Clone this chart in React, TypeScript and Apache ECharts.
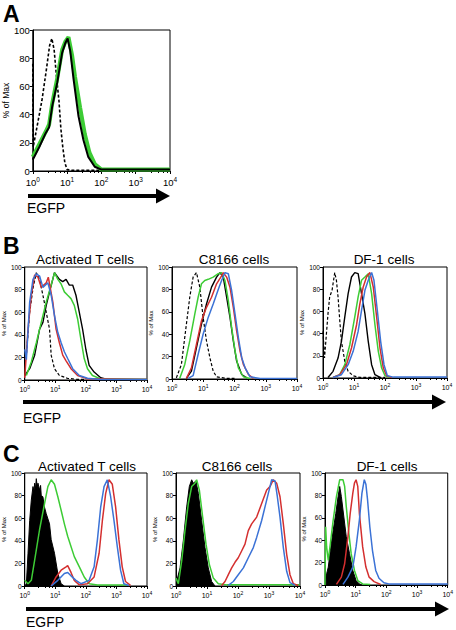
import React, { useEffect, useRef } from "react";
import * as echarts from "echarts";

// ---------- DATA: [EGFP intensity, % of Max] ----------
// Panel A
const aDashed = [[1, 76], [1.03, 17], [1.3, 30], [1.85, 50], [2.5, 72], [3.1, 89], [3.6, 94], [4.2, 86], [5.0, 65], [5.8, 50], [6.6, 30], [7.5, 17], [8.6, 6], [10, 1], [14, 0.5], [300, 0.5]];
const aBlack = [[1, 8], [1.55, 17], [2.4, 27], [3.0, 31], [3.7, 46], [5.2, 63], [7.2, 84], [9, 91], [10.4, 94], [12.4, 85], [15.5, 65], [21.5, 39], [30, 22], [41.5, 10], [64, 3], [100, 1], [10000, 1]];
const aGreen = [[1, 10], [1.55, 19], [2.4, 28], [3.0, 33], [3.7, 48], [5.2, 66], [7.2, 86], [9, 92], [11, 95], [14, 82], [17, 67], [24, 45], [33, 26], [45, 13], [64, 5], [100, 1], [10000, 1]];

// Panel B - Activated T cells
const bTDashed = [[1, 15], [1.13, 22], [1.45, 60], [1.86, 81], [2.39, 95], [3.06, 89], [3.93, 75], [5.05, 60], [6.47, 45], [7.33, 22], [9.4, 10], [13.6, 4], [25, 1.5], [54, 0.5], [100, 0.5]];
const bTBlack = [[1, 4], [1.45, 10], [2.11, 22], [3.06, 45], [3.93, 51], [5.05, 66], [6.47, 78], [9.4, 95], [13.6, 89], [17.5, 87], [22.5, 89], [28.8, 84], [37, 84], [47.4, 75], [60.8, 60], [78, 45], [100, 27], [128, 13], [186, 7], [306, 2], [502, 0.5], [10000, 0.5]];
const bTGreen = [[1.13, 4], [1.64, 16], [2.39, 33], [3.47, 51], [5.05, 69], [7.33, 84], [9.4, 95], [12.1, 89], [15.5, 85], [19.8, 78], [25.4, 75], [32.6, 72], [41.8, 66], [53.7, 54], [68.9, 36], [88.3, 19], [113, 10], [164, 4], [306, 1], [10000, 0.5]];
const bTRed = [[1, 2], [1.28, 45], [1.64, 75], [2.11, 93], [2.71, 91], [3.47, 82], [5.05, 86], [5.9, 91], [8.3, 69], [10.6, 45], [13.6, 33], [17.5, 22], [22.5, 17], [32.6, 10], [53.7, 4], [113, 1], [10000, 0.5]];
const bTBlue = [[1, 27], [1.13, 18], [1.45, 69], [1.86, 89], [2.39, 94], [3.06, 92], [3.93, 82], [5.71, 86], [7.33, 75], [9.4, 57], [12.1, 42], [15.5, 33], [19.8, 25], [25.4, 19], [37, 10], [61, 4], [113, 1.5], [300, 0.5], [10000, 0.5]];

// Panel B - C8166 cells
const bCDashed = [[1.38, 1], [2.0, 13], [2.89, 49], [3.7, 73], [4.74, 91], [6.07, 95], [7.76, 82], [9.9, 55], [12.7, 34], [16.3, 19], [20.8, 7], [26.7, 2], [56, 0.5], [100, 0.5]];
const bCGreen = [[1.76, 0.5], [2.56, 13], [3.7, 34], [5.36, 58], [6.86, 73], [8.79, 85], [11.2, 88], [14.4, 89], [20.8, 91], [30.2, 94], [38.6, 95], [49.5, 88], [63.4, 70], [81, 46], [104, 25], [133, 10], [192, 2], [315, 0.5]];
const bCBlack = [[2.89, 0.5], [4.19, 7], [6.07, 28], [8.79, 49], [12.7, 67], [18.4, 82], [26.7, 91], [34.2, 95], [43.7, 91], [56, 73], [71.7, 55], [91.7, 34], [117, 16], [170, 4], [246, 1]];
const bCRed = [[2.89, 0.5], [4.19, 10], [6.07, 31], [8.79, 52], [12.7, 64], [18.4, 73], [26.7, 85], [38.6, 92], [43.7, 95], [56, 91], [71.7, 82], [91.7, 64], [117, 43], [150, 25], [192, 13], [279, 4], [403, 0.5]];
const bCBlue = [[3.27, 0.5], [4.74, 3], [6.86, 22], [9.9, 40], [14.4, 55], [20.8, 67], [30.2, 80], [38.6, 88], [49.5, 95], [63.4, 94], [81, 79], [104, 58], [133, 37], [170, 19], [218, 10], [315, 2], [661, 0.5], [10000, 0.5]];

// Panel B - DF-1 cells
const bDDashed = [[1, 42], [1.12, 18], [1.45, 58], [1.64, 73], [1.96, 79], [2.39, 95], [2.71, 88], [3.06, 73], [3.47, 52], [3.93, 33], [5.05, 15], [6.47, 6], [9.4, 2], [15.5, 0.5], [100, 0.5]];
const bDBlack = [[1.45, 0.5], [2.11, 6], [3.06, 18], [3.93, 33], [5.05, 55], [6.47, 76], [8.3, 91], [10.6, 95], [13.6, 94], [17.5, 76], [22.5, 58], [28.8, 33], [37, 12], [47.4, 3], [68.9, 0.5]];
const bDGreen = [[2.11, 0.5], [3.47, 3], [5.05, 12], [7.33, 30], [10.6, 55], [13.6, 73], [17.5, 88], [22.5, 91], [28.8, 94], [37, 76], [47.4, 48], [60.8, 24], [78, 9], [100, 2], [145, 0.5]];
const bDRed = [[2.11, 0.5], [3.47, 3], [5.71, 12], [8.3, 27], [12.1, 48], [15.5, 67], [19.8, 82], [25.4, 91], [32.6, 95], [41.8, 82], [53.7, 55], [68.9, 27], [88.3, 9], [113, 2], [164, 0.5]];
const bDBlue = [[2.11, 0.5], [3.93, 3], [6.47, 12], [9.4, 24], [13.6, 42], [17.5, 61], [22.5, 79], [28.8, 88], [37, 95], [44, 88], [56.4, 61], [72.4, 33], [92.8, 12], [119, 2], [186, 0.8], [10000, 0.8]];

// Panel C - Activated T cells
const cTFill = [[1, 0], [1.13, 2], [1.28, 29], [1.45, 58], [1.64, 76], [1.86, 88], [2.0, 84], [2.11, 91], [2.25, 86], [2.39, 95], [2.55, 88], [2.71, 91], [3.06, 85], [3.3, 89], [3.47, 80], [3.93, 79], [4.4, 70], [5.05, 64], [6.47, 55], [7.33, 41], [9.4, 29], [12.1, 11], [15.5, 2], [19.8, 0]];
const cTGreen = [[1, 5], [1.28, 2], [1.64, 5], [2.11, 23], [3.06, 50], [4.45, 73], [5.71, 88], [7.33, 94], [9.4, 90], [12.1, 79], [15.5, 67], [19.8, 55], [25.4, 44], [32.6, 35], [41.8, 26], [53.7, 20], [68.9, 14], [88.3, 8], [128, 2], [239, 0.8], [2246, 0.8]];
const cTRed = [[7.33, 0], [10.6, 8], [15.5, 14], [22.5, 17], [25.4, 18], [32.6, 12], [41.8, 5], [60.8, 1], [113, 2], [186, 8], [271, 29], [347, 58], [445, 82], [571, 94], [733, 90], [940, 70], [1205, 41], [1546, 17], [1983, 4], [2880, 0.5]];
const cTBlue = [[7.33, 0], [12.1, 5], [19.8, 11], [25.4, 12], [32.6, 9], [47.4, 5], [68.9, 2], [128, 5], [186, 17], [239, 41], [306, 70], [393, 88], [504, 94], [647, 79], [830, 58], [1064, 35], [1365, 14], [1750, 2], [2543, 0.5]];

// Panel C - C8166 cells
const cCFill = [[1.05, 4], [1.35, 16], [1.72, 40], [2.21, 70], [2.69, 88], [3.2, 94], [3.62, 91], [4.42, 93], [5.25, 82], [6.73, 58], [8.62, 34], [11.0, 16], [14.1, 4], [18.1, 0]];
const cCGreen = [[1, 7], [1.19, 2], [1.52, 22], [1.95, 49], [2.5, 73], [3.2, 88], [4.1, 91], [4.64, 94], [5.66, 85], [7.25, 61], [9.29, 37], [11.9, 19], [16, 7], [23.2, 2], [43, 1], [10000, 1]];
const cCRed = [[29.7, 0.5], [38.1, 4], [48.8, 10], [62.5, 16], [80, 21], [102, 25], [131, 31], [168, 37], [215, 49], [276, 55], [400, 61], [580, 73], [841, 85], [1076, 88], [1380, 94], [1767, 91], [2265, 79], [2898, 55], [3715, 28], [4753, 10], [6095, 2], [8830, 0.5]];
const cCBlue = [[48.8, 0.5], [70.7, 4], [102, 10], [149, 16], [215, 25], [312, 34], [400, 43], [580, 58], [743, 70], [951, 82], [1219, 94], [1563, 93], [1858, 79], [2265, 61], [2898, 34], [3715, 13], [4753, 3], [6902, 0.5]];

// Panel C - DF-1 cells
const cDFill = [[1.1, 0], [1.13, 10], [1.28, 16], [1.45, 28], [1.85, 49], [2.25, 64], [2.67, 79], [3.02, 88], [3.41, 79], [3.86, 67], [4.94, 43], [6.31, 28], [8.07, 13], [10.3, 4], [13.2, 1], [16, 0]];
const cDGreen = [[1, 0], [1.05, 52], [1.13, 34], [1.28, 22], [1.45, 34], [1.85, 58], [2.36, 79], [3.02, 94], [3.86, 94], [4.37, 88], [4.94, 70], [6.0, 46], [7.13, 28], [9.12, 13], [11.7, 4], [16.9, 1], [30, 0.5]];
const cDRed = [[2.36, 0.5], [3.41, 7], [4.37, 19], [5.58, 43], [6.63, 64], [8.07, 82], [9.12, 91], [10.3, 94], [11.7, 88], [13.2, 64], [16.9, 34], [21.5, 16], [27.5, 7], [39.8, 3], [65, 0.5]];
const cDBlue = [[3.86, 0.5], [5.58, 7], [8.07, 16], [10.3, 34], [13.2, 58], [16, 82], [19.1, 94], [21.5, 90], [24.4, 76], [28.9, 52], [35.2, 31], [45, 13], [57.5, 6], [83.2, 2], [120, 1], [10000, 1]];

const yTicks = [0, 20, 40, 60, 80, 100];
const titlesB = ["Activated T cells", "C8166 cells", "DF-1 cells"];
const titlesC = ["Activated T cells", "C8166 cells", "DF-1 cells"];
const axisTitle = "EGFP";
const yName = "% of Max";

const GREEN = "#3dcc35";
const RED = "#d42f2f";
const BLUE = "#3b72d6";
const FONT = "Liberation Sans, Arial, sans-serif";

type Curve = { data: number[][]; kind: "dashed" | "black" | "green" | "red" | "blue" | "fill" | "greenThick" };

const panels = [
  { box: [30, 30, 140, 141], big: true, curves: [{ data: aDashed, kind: "dashed" }, { data: aGreen, kind: "greenThick" }, { data: aBlack, kind: "black" }] as Curve[] },
  { box: [23, 267, 124, 113], big: false, curves: [{ data: bTDashed, kind: "dashed" }, { data: bTBlack, kind: "black" }, { data: bTGreen, kind: "green" }, { data: bTRed, kind: "red" }, { data: bTBlue, kind: "blue" }] as Curve[] },
  { box: [172, 267, 125, 112], big: false, curves: [{ data: bCDashed, kind: "dashed" }, { data: bCBlack, kind: "black" }, { data: bCGreen, kind: "green" }, { data: bCRed, kind: "red" }, { data: bCBlue, kind: "blue" }] as Curve[] },
  { box: [323, 267, 124, 111], big: false, curves: [{ data: bDDashed, kind: "dashed" }, { data: bDBlack, kind: "black" }, { data: bDGreen, kind: "green" }, { data: bDRed, kind: "red" }, { data: bDBlue, kind: "blue" }] as Curve[] },
  { box: [23, 473, 124, 113], big: false, curves: [{ data: cTFill, kind: "fill" }, { data: cTGreen, kind: "green" }, { data: cTRed, kind: "red" }, { data: cTBlue, kind: "blue" }] as Curve[] },
  { box: [176, 473, 124, 113], big: false, curves: [{ data: cCFill, kind: "fill" }, { data: cCGreen, kind: "green" }, { data: cCRed, kind: "red" }, { data: cCBlue, kind: "blue" }] as Curve[] },
  { box: [325, 473, 125, 112], big: false, curves: [{ data: cDFill, kind: "fill" }, { data: cDGreen, kind: "green" }, { data: cDRed, kind: "red" }, { data: cDBlue, kind: "blue" }] as Curve[] },
];

function buildOption() {
  const grid: any[] = [];
  const xAxis: any[] = [];
  const yAxis: any[] = [];
  const series: any[] = [];
  panels.forEach((p, i) => {
    const [l, t, w, h] = p.box;
    const fs = p.big ? 9.5 : 6.5;
    grid.push({ left: l, top: t, width: w, height: h, show: true, borderColor: "#000", borderWidth: 1, backgroundColor: "transparent" });
    xAxis.push({
      type: "log", logBase: 10, min: 1, max: 10000, gridIndex: i,
      axisLine: { lineStyle: { color: "#000", width: 1 } },
      axisTick: { show: true, length: 3, lineStyle: { color: "#000" } },
      minorTick: { show: true, splitNumber: 5, length: 2, lineStyle: { color: "#000" } },
      splitLine: { show: false },
      axisLabel: {
        color: "#000", fontFamily: FONT, fontSize: p.big ? 9.5 : 7, margin: p.big ? 5 : 4,
        formatter: (v: number) => "10{s|" + Math.round(Math.log10(v)) + "}",
        rich: { s: { fontSize: p.big ? 6.5 : 5, fontFamily: FONT, color: "#000", padding: [0, 0, p.big ? 6 : 5, 0] } },
      },
    });
    yAxis.push({
      type: "value", min: 0, max: 100, interval: 20, gridIndex: i,
      name: yName, nameLocation: "middle", nameGap: p.big ? 21 : 15,
      nameTextStyle: { fontFamily: FONT, fontSize: p.big ? 8.5 : 6, color: "#000" },
      axisLine: { show: true, lineStyle: { color: "#000" } },
      axisTick: { show: true, length: 3, lineStyle: { color: "#000" } },
      splitLine: { show: false },
      axisLabel: { color: "#000", fontFamily: FONT, fontSize: fs, margin: 3, customValues: yTicks },
    });
    p.curves.forEach((c) => {
      const base: any = { type: "line", xAxisIndex: i, yAxisIndex: i, data: c.data, symbol: "none", showSymbol: false, clip: true, animation: false, z: 3 };
      if (c.kind === "dashed") base.lineStyle = { color: "#000", width: p.big ? 1.6 : 1.2, type: [3, 2] };
      if (c.kind === "black") base.lineStyle = { color: "#000", width: p.big ? 2 : 1.4 };
      if (c.kind === "green") base.lineStyle = { color: GREEN, width: 1.5 };
      if (c.kind === "greenThick") base.lineStyle = { color: GREEN, width: 4 };
      if (c.kind === "red") base.lineStyle = { color: RED, width: 1.5 };
      if (c.kind === "blue") base.lineStyle = { color: BLUE, width: 1.5 };
      if (c.kind === "fill") {
        base.lineStyle = { color: "#000", width: 1 };
        base.areaStyle = { color: "#000", opacity: 1 };
        base.z = 2;
      }
      series.push(base);
    });
  });

  const arrow = (x1: number, x2: number, y: number, lw: number) => [
    { type: "line", shape: { x1, y1: y, x2: x2 - 12, y2: y }, style: { stroke: "#000", lineWidth: lw } },
    { type: "polygon", shape: { points: [[x2 - 14, y - 7.5], [x2, y], [x2 - 14, y + 7.5]] }, style: { fill: "#000" } },
  ];
  const txt = (text: string, x: number, y: number, size: number, align: string, bold = false) => ({
    type: "text", x, y,
    style: { text, fontFamily: FONT, fontSize: size, fontWeight: bold ? "bold" : "normal", fill: "#000", textAlign: align, textVerticalAlign: "middle" },
  });

  const graphic: any[] = [
    txt("A", 3, 13.5, 23, "left", true),
    txt("B", 3, 246, 23, "left", true),
    txt("C", 3, 454, 23, "left", true),
    txt(titlesB[0], 85, 259, 13.5, "center"),
    txt(titlesB[1], 234, 259, 13.5, "center"),
    txt(titlesB[2], 384, 259, 13.5, "center"),
    txt(titlesC[0], 87, 466, 13.5, "center"),
    txt(titlesC[1], 237, 466, 13.5, "center"),
    txt(titlesC[2], 387, 466, 13.5, "center"),
    txt(axisTitle, 27, 208, 14, "left"),
    txt(axisTitle, 23, 418, 14, "left"),
    txt(axisTitle, 26, 622, 14, "left"),
    ...arrow(28, 170, 196, 4),
    ...arrow(23, 446, 402, 4),
    ...arrow(26, 449, 609, 4),
  ];

  return { animation: false, backgroundColor: "#fff", grid, xAxis, yAxis, series, graphic };
}

export default function App() {
  const ref = useRef<HTMLDivElement>(null);
  useEffect(() => {
    if (!ref.current) return;
    const chart = echarts.init(ref.current, null, { renderer: "svg" });
    chart.setOption(buildOption() as any);
    return () => chart.dispose();
  }, []);
  return <div ref={ref} style={{ position: "fixed", left: 0, top: 0, width: 456, height: 630, background: "#fff" }} />;
}
